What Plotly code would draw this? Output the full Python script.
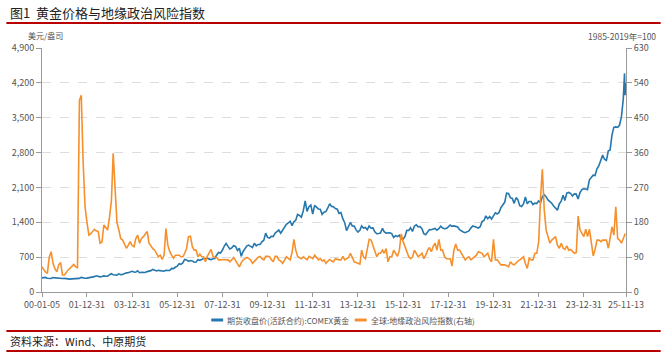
import pandas as pd
import plotly.graph_objects as go

# ---- data ----
gold_first_date = ["2000-01-05"]
gold_first_value = [283]
gold_monthly = [
    284, 293, 277, 274, 272, 289, 283, 278, 273, 264, 271, 273,          # 2000
    265, 267, 258, 264, 267, 271, 265, 273, 293, 279, 275, 279,          # 2001
    283, 297, 303, 309, 326, 318, 304, 312, 324, 317, 319, 347,          # 2002
    368, 347, 335, 339, 364, 346, 354, 375, 385, 386, 398, 416,          # 2003
    400, 397, 427, 387, 395, 392, 391, 409, 416, 429, 453, 438,          # 2004
    423, 435, 429, 435, 417, 437, 429, 433, 473, 470, 496, 518,          # 2005
    569, 556, 583, 654, 643, 614, 633, 625, 599, 604, 648, 636,          # 2006
    652, 672, 663, 680, 660, 650, 667, 673, 743, 794, 783, 838,          # 2007
    923, 975, 916, 865, 887, 930, 914, 833, 880, 718, 814, 884,          # 2008
    928, 942, 916, 891, 979, 927, 955, 955, 1008, 1040, 1182, 1096,      # 2009
    1081, 1118, 1113, 1180, 1213, 1244, 1181, 1248, 1307, 1359, 1386, 1421,  # 2010
    1333, 1411, 1439, 1556, 1536, 1502, 1628, 1829, 1620, 1714, 1746, 1566,  # 2011
    1738, 1696, 1668, 1664, 1560, 1604, 1614, 1687, 1773, 1719, 1712, 1675,  # 2012
    1663, 1578, 1595, 1472, 1392, 1234, 1312, 1396, 1327, 1323, 1253, 1202,  # 2013
    1240, 1326, 1284, 1295, 1250, 1327, 1282, 1287, 1210, 1171, 1175, 1184,  # 2014
    1279, 1213, 1183, 1183, 1189, 1172, 1095, 1132, 1114, 1142, 1065, 1061,  # 2015
    1116, 1238, 1235, 1290, 1215, 1321, 1351, 1309, 1315, 1273, 1173, 1152,  # 2016
    1211, 1253, 1249, 1268, 1275, 1242, 1270, 1322, 1283, 1271, 1277, 1309,  # 2017
    1345, 1318, 1327, 1318, 1305, 1254, 1224, 1206, 1192, 1215, 1226, 1283,  # 2018
    1325, 1316, 1298, 1285, 1311, 1413, 1437, 1529, 1472, 1514, 1464, 1523,  # 2019
    1589, 1566, 1597, 1694, 1751, 1801, 1986, 1978, 1895, 1879, 1780, 1895,  # 2020
    1850, 1734, 1716, 1769, 1907, 1771, 1817, 1816, 1757, 1784, 1776, 1829,  # 2021
    1797, 1911, 1954, 1915, 1849, 1817, 1782, 1726, 1672, 1640, 1768, 1826,  # 2022
    1945, 1836, 1986, 1999, 1982, 1929, 1970, 1966, 1866, 1995, 2057, 2072,  # 2023
    2067, 2054, 2254, 2303, 2346, 2339, 2473, 2537, 2668, 2749, 2665, 2641,  # 2024
    2835, 2848, 3150, 3305, 3315, 3307, 3348, 3516, 3873,                    # 2025 Jan-Sep
]
gold_last_dates = ["2025-10-08", "2025-10-20", "2025-10-28", "2025-11-03", "2025-11-13"]
gold_last_values = [4070, 4390, 3950, 4010, 4195]

gpr_values = [
    65, 58, 52, 48, 90, 104, 74, 60, 52, 70, 76, 44,          # 2000
    44, 50, 57, 61, 66, 71, 65, 63, 495, 508, 332, 220,       # 2001
    180, 147, 150, 156, 162, 158, 156, 126, 129, 173, 165, 160,  # 2002
    194, 237, 358, 263, 180, 160, 138, 134, 125, 113, 121, 130,  # 2003
    120, 117, 138, 147, 126, 138, 143, 150, 156, 126, 117, 112,  # 2004
    108, 100, 91, 95, 84, 95, 164, 121, 104, 95, 87, 95,      # 2005
    95, 95, 91, 91, 100, 113, 143, 144, 117, 108, 108, 91,    # 2006
    98, 91, 91, 78, 92, 100, 110, 92, 89, 89, 83, 83,         # 2007
    84, 84, 83, 83, 78, 85, 89, 81, 72, 65, 76, 83,           # 2008
    86, 89, 86, 83, 74, 80, 86, 90, 92, 86, 83, 92,           # 2009
    92, 91, 84, 78, 92, 92, 83, 80, 74, 83, 91, 87,           # 2010
    83, 103, 136, 108, 92, 88, 86, 91, 88, 83, 92, 89,        # 2011
    86, 95, 90, 83, 86, 80, 83, 74, 80, 84, 80, 78,           # 2012
    86, 84, 83, 83, 92, 83, 86, 89, 100, 89, 78, 76,          # 2013
    74, 72, 108, 90, 86, 108, 136, 134, 120, 108, 91, 100,    # 2014
    100, 108, 100, 112, 78, 91, 91, 108, 100, 92, 108, 150,   # 2015
    130, 115, 104, 91, 86, 90, 108, 98, 91, 95, 100, 86,      # 2016
    95, 108, 115, 104, 118, 126, 108, 136, 108, 108, 91, 86,  # 2017
    86, 86, 67, 108, 124, 108, 108, 100, 90, 83, 88, 91,      # 2018
    83, 88, 91, 95, 104, 102, 100, 91, 95, 100, 85, 78,       # 2019
    136, 83, 83, 75, 70, 70, 70, 68, 65, 78, 72, 70,          # 2020
    76, 80, 83, 88, 91, 73, 61, 87, 83, 83, 100, 100,         # 2021
    130, 246, 317, 212, 160, 143, 126, 134, 140, 143, 120, 113,  # 2022
    126, 113, 110, 119, 108, 110, 105, 100, 102, 196, 160, 150,  # 2023
    143, 162, 143, 162, 126, 93, 110, 134, 134, 130, 134, 134,   # 2024
    134, 113, 143, 168, 147, 220, 138, 134, 126, 140, 151,       # 2025 Jan-Nov
]

x_tick_dates = ["2000-01-05", "2001-12-31", "2003-12-31", "2005-12-31", "2007-12-31",
                "2009-12-31", "2011-12-31", "2013-12-31", "2015-12-31", "2017-12-31",
                "2019-12-31", "2021-12-31", "2023-12-31", "2025-11-13"]
x_tick_labels = ["00-01-05", "01-12-31", "03-12-31", "05-12-31", "07-12-31", "09-12-31",
                 "11-12-31", "13-12-31", "15-12-31", "17-12-31", "19-12-31", "21-12-31",
                 "23-12-31", "25-11-13"]
left_ticks = [0, 700, 1400, 2100, 2800, 3500, 4200, 4900]
right_ticks = [0, 90, 180, 270, 360, 450, 540, 630]

gold_name = "期货收盘价(活跃合约):COMEX黄金"
gpr_name = "全球:地缘政治风险指数(右轴)"

# ---- build ----
gold_dates = (gold_first_date
              + [d.strftime("%Y-%m-%d") for d in pd.date_range("2000-01-31", "2025-09-30", freq="ME")]
              + gold_last_dates)
gold_values = gold_first_value + gold_monthly + gold_last_values
gpr_dates = [d.strftime("%Y-%m-%d") for d in pd.date_range("2000-01-01", "2025-11-01", freq="MS")]

BLUE = "#2677ad"
ORANGE = "#f5902c"
FONT = "Noto Sans CJK SC"
AXIS_GRAY = "#9a9a9a"
TXT = "#555555"

W, H = 661, 356
ML, MR, MT, MB = 36, 35, 48, 64
PW, PH = W - ML - MR, H - MT - MB


def px(xp):
    return (xp - ML) / PW


def py(yp):
    return (H - MB - yp) / PH


fig = go.Figure()
fig.add_trace(go.Scatter(x=gold_dates, y=gold_values, name=gold_name, mode="lines",
                         line=dict(color=BLUE, width=1.6), yaxis="y"))
fig.add_trace(go.Scatter(x=gpr_dates, y=gpr_values, name=gpr_name, mode="lines",
                         line=dict(color=ORANGE, width=1.6), yaxis="y2"))

fig.update_layout(
    width=W, height=H,
    margin=dict(l=ML, r=MR, t=MT, b=MB),
    paper_bgcolor="white", plot_bgcolor="white",
    font=dict(family=FONT, size=9, color=TXT),
    showlegend=False,
    xaxis=dict(type="date", range=["2000-01-05", "2025-11-13"],
               tickvals=x_tick_dates, ticktext=x_tick_labels,
               showgrid=False, showline=True, linecolor=AXIS_GRAY, linewidth=1,
               ticks="outside", ticklen=4, tickcolor=AXIS_GRAY,
               tickfont=dict(size=9, color=TXT), zeroline=False),
    yaxis=dict(range=[0, 4900], tickvals=left_ticks, tickformat=",",
               showgrid=True, gridcolor="#dddddd", griddash="dash", gridwidth=1,
               showline=True, linecolor=AXIS_GRAY, linewidth=1,
               ticks="outside", ticklen=5, tickcolor=AXIS_GRAY,
               tickfont=dict(size=9, color=TXT), zeroline=False),
    yaxis2=dict(range=[0, 630], tickvals=right_ticks, overlaying="y", side="right",
                showgrid=False, showline=True, linecolor=AXIS_GRAY, linewidth=1,
                ticks="outside", ticklen=5, tickcolor=AXIS_GRAY,
                tickfont=dict(size=9, color=TXT), zeroline=False),
)

# title, unit labels, source
fig.add_annotation(text="图1  黄金价格与地缘政治风险指数", xref="paper", yref="paper",
                   x=px(2), y=py(12), xanchor="left", yanchor="middle", showarrow=False,
                   font=dict(family=FONT, size=13, color="#222222"))
fig.add_annotation(text="美元/盎司", xref="paper", yref="paper",
                   x=px(20), y=py(36), xanchor="left", yanchor="middle", showarrow=False,
                   font=dict(family=FONT, size=8, color=TXT))
fig.add_annotation(text="1985-2019年=100", xref="paper", yref="paper",
                   x=px(658), y=py(36), xanchor="right", yanchor="middle", showarrow=False,
                   font=dict(family=FONT, size=8.5, color=TXT))
fig.add_annotation(text="资料来源：Wind、中原期货", xref="paper", yref="paper",
                   x=px(2), y=py(341), xanchor="left", yanchor="middle", showarrow=False,
                   font=dict(family=FONT, size=11, color="#222222"))

# manual legend
fig.add_shape(type="line", xref="paper", yref="paper", x0=px(207), x1=px(219),
              y0=py(320), y1=py(320), line=dict(color=BLUE, width=3))
fig.add_annotation(text=gold_name, xref="paper", yref="paper",
                   x=px(221), y=py(320), xanchor="left", yanchor="middle", showarrow=False,
                   font=dict(family=FONT, size=8, color=TXT))
fig.add_shape(type="line", xref="paper", yref="paper", x0=px(352), x1=px(364),
              y0=py(320), y1=py(320), line=dict(color=ORANGE, width=3))
fig.add_annotation(text=gpr_name, xref="paper", yref="paper",
                   x=px(366), y=py(320), xanchor="left", yanchor="middle", showarrow=False,
                   font=dict(family=FONT, size=8, color=TXT))

# red rules
for yy in [23, 331, 351]:
    fig.add_shape(type="line", xref="paper", yref="paper", x0=px(0), x1=px(W),
                  y0=py(yy), y1=py(yy), line=dict(color="#b80000", width=2))

fig.write_html("out.html", config={"displayModeBar": False},
               post_script="document.body.style.margin='0';")
